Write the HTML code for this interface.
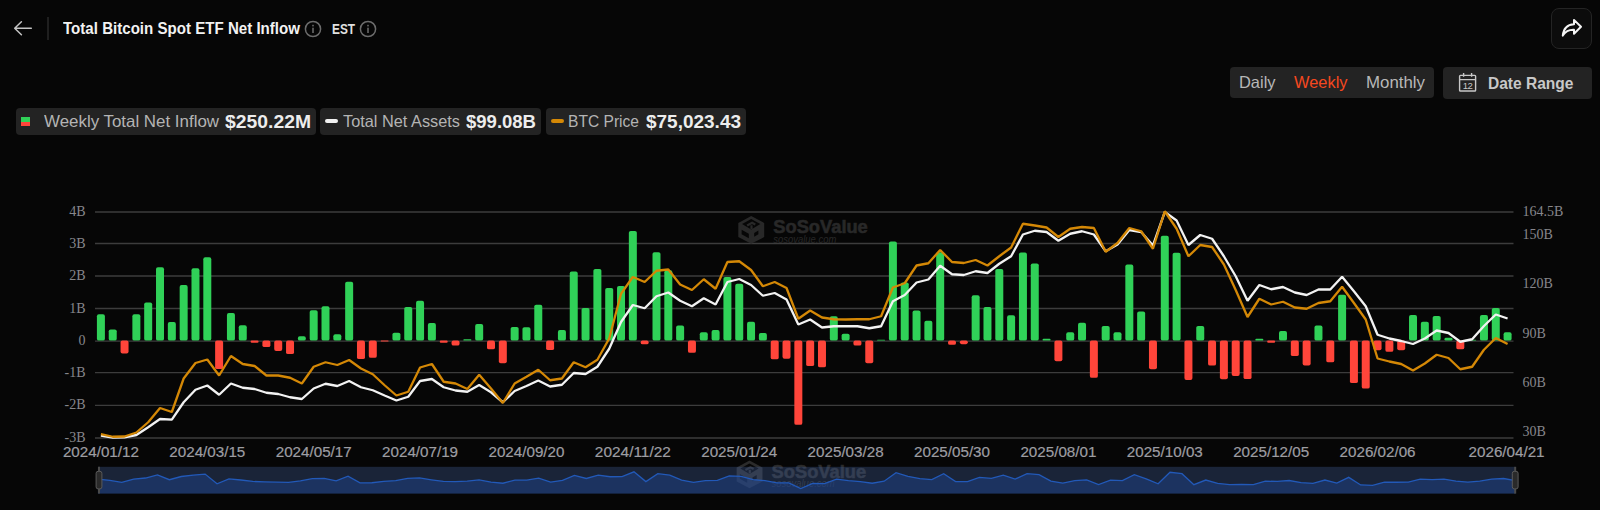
<!DOCTYPE html>
<html lang="en"><head><meta charset="utf-8"><title>Total Bitcoin Spot ETF Net Inflow</title>
<style>
*{margin:0;padding:0;box-sizing:border-box}
html,body{width:1600px;height:510px;background:#060606;overflow:hidden}
body{position:relative;font-family:"Liberation Sans",sans-serif;color:#eee}
.abs{position:absolute}
.t{position:absolute;white-space:nowrap;line-height:1;transform-origin:0 0}
.box{position:absolute;background:#232323;border-radius:4px}
.chart{position:absolute;left:0;top:0}
svg{display:block}
</style></head><body>
<svg class="abs" style="left:10px;top:16px" width="26" height="26" viewBox="0 0 26 26"><path d="M21.3 12.2 H5 M11.4 5.7 L4.7 12.2 L11.4 18.7" fill="none" stroke="#c4c4c4" stroke-width="1.5" stroke-linecap="round" stroke-linejoin="round"/></svg>
<div class="abs" style="left:47.2px;top:17px;width:1.8px;height:22.6px;background:#1f1f1f"></div>
<svg class="abs" style="left:304px;top:19.8px" width="18" height="18" viewBox="0 0 18 18"><circle cx="9" cy="9" r="7.6" fill="none" stroke="#6c6c6c" stroke-width="1.5"/><rect x="8.3" y="7.7" width="1.4" height="5.3" fill="#777777"/><rect x="8.3" y="4.8" width="1.4" height="1.6" fill="#777777"/></svg>
<svg class="abs" style="left:358.8px;top:19.8px" width="18" height="18" viewBox="0 0 18 18"><circle cx="9" cy="9" r="7.6" fill="none" stroke="#6c6c6c" stroke-width="1.5"/><rect x="8.3" y="7.7" width="1.4" height="5.3" fill="#777777"/><rect x="8.3" y="4.8" width="1.4" height="1.6" fill="#777777"/></svg>
<div class="abs" style="left:1551.3px;top:8px;width:40.5px;height:41px;border:1px solid #242424;background:#0c0c0c;border-radius:8px"></div>
<svg class="abs" style="left:1560px;top:16px" width="24" height="24" viewBox="0 0 24 24"><path d="M14 3.9 L21 10.8 L14 17.8 V13.8 C9 13.6 5.5 15.2 2.8 19.6 C3.4 13 7.2 8.6 14 8.2 Z" fill="none" stroke="#f5f5f5" stroke-width="2" stroke-linejoin="round"/></svg>
<div class="box" style="left:1229.5px;top:66.7px;width:204px;height:31.5px"></div>
<div class="box" style="left:1442.5px;top:67.1px;width:149.5px;height:32px"></div>
<svg class="abs" style="left:1457px;top:71px" width="22" height="24" viewBox="0 0 22 24"><g fill="none" stroke="#c8c8c8" stroke-width="1.4"><rect x="2.6" y="4.4" width="16" height="15.6" rx="0.8"/><path d="M2.6 8.6 H18.6 M6.6 2 V5.8 M14.6 2 V5.8"/></g><text x="10.6" y="17.8" text-anchor="middle" font-family="Liberation Sans, sans-serif" font-weight="400" font-size="9.6" letter-spacing="-0.4" fill="#c8c8c8">12</text></svg>
<div class="box" style="left:16px;top:108px;width:299.5px;height:26.5px"></div>
<div class="box" style="left:320.2px;top:108px;width:221px;height:26.5px"></div>
<div class="box" style="left:546px;top:108px;width:199.5px;height:26.5px"></div>
<div class="abs" style="left:20.5px;top:117px;width:9.5px;height:4.7px;background:#30d158"></div>
<div class="abs" style="left:20.5px;top:121.7px;width:9.5px;height:4.7px;background:#ff453a"></div>
<div class="abs" style="left:325px;top:118.7px;width:13px;height:4.6px;border-radius:2.3px;background:#f2f2f2"></div>
<div class="abs" style="left:550.5px;top:118.7px;width:13px;height:4.6px;border-radius:2.3px;background:#d48806"></div>
<span id="t_title" class="t" style="left:62.5px;top:20.84px;font-size:15.6px;font-weight:700;color:#f2f2f2;transform:scaleX(0.9679)">Total Bitcoin Spot ETF Net Inflow</span>
<span id="t_est" class="t" style="left:331.5px;top:21.86px;font-size:14.5px;font-weight:700;color:#e0e0e0;transform:scaleX(0.8155)">EST</span>
<span id="t_daily" class="t" style="left:1239px;top:74.3px;font-size:16.5px;font-weight:400;color:#b8b8b8;transform:scaleX(0.9949)">Daily</span>
<span id="t_weekly" class="t" style="left:1293.5px;top:74.3px;font-size:16.5px;font-weight:400;color:#f5481f;transform:scaleX(0.9945)">Weekly</span>
<span id="t_monthly" class="t" style="left:1365.5px;top:74.3px;font-size:16.5px;font-weight:400;color:#b8b8b8;transform:scaleX(1.0211)">Monthly</span>
<span id="t_range" class="t" style="left:1488.3px;top:75.3px;font-size:16.5px;font-weight:700;color:#c8c8c8;transform:scaleX(0.9418)">Date Range</span>
<span id="t_l1" class="t" style="left:43.6px;top:113.3px;font-size:16.5px;font-weight:400;color:#b4b4b4;transform:scaleX(1.024)">Weekly Total Net Inflow</span>
<span id="t_v1" class="t" style="left:224.5px;top:112.42px;font-size:19px;font-weight:700;color:#ededed;transform:scaleX(1.0176)">$250.22M</span>
<span id="t_l2" class="t" style="left:342.8px;top:113.3px;font-size:16.5px;font-weight:400;color:#b4b4b4;transform:scaleX(0.9889)">Total Net Assets</span>
<span id="t_v2" class="t" style="left:466px;top:112.42px;font-size:19px;font-weight:700;color:#ededed;transform:scaleX(0.9743)">$99.08B</span>
<span id="t_l3" class="t" style="left:568.4px;top:113.3px;font-size:16.5px;font-weight:400;color:#b4b4b4;transform:scaleX(0.9443)">BTC Price</span>
<span id="t_v3" class="t" style="left:645.5px;top:112.42px;font-size:19px;font-weight:700;color:#ededed;transform:scaleX(0.999)">$75,023.43</span>
<svg class="chart" width="1600" height="510" viewBox="0 0 1600 510">
<line x1="95.0" x2="1513.5" y1="212" y2="212" stroke="#3c3c3c" stroke-width="1.3"/>
<line x1="95.0" x2="1513.5" y1="243.5" y2="243.5" stroke="#3c3c3c" stroke-width="1.3"/>
<line x1="95.0" x2="1513.5" y1="276" y2="276" stroke="#3c3c3c" stroke-width="1.3"/>
<line x1="95.0" x2="1513.5" y1="308.5" y2="308.5" stroke="#3c3c3c" stroke-width="1.3"/>
<line x1="95.0" x2="1513.5" y1="341.2" y2="341.2" stroke="#3c3c3c" stroke-width="1.3"/>
<line x1="95.0" x2="1513.5" y1="372.7" y2="372.7" stroke="#3c3c3c" stroke-width="1.3"/>
<line x1="95.0" x2="1513.5" y1="405.4" y2="405.4" stroke="#3c3c3c" stroke-width="1.3"/>
<line x1="95.0" x2="1513.5" y1="438" y2="438" stroke="#3c3c3c" stroke-width="1.3"/>
<g transform="translate(738.3,215.9)" fill="#282828"><path d="M12.9 0 L25.9 7.05 V21.2 L12.9 27.8 L0 21.2 V7.05 Z" fill="#282828"/><path d="M12.9 3 L22 8.2 L12.9 13.5 L3.8 8.2 Z" fill="#060606"/><path d="M8.8 9.6 L13.8 6.8 L17 8.6 M13.2 9.4 V13" fill="none" stroke="#282828" stroke-width="2.2"/><path d="M3.3 13.8 L10.5 17.8 V22.4 L3.3 18.4 Z" fill="#060606"/><path d="M15.9 17 L20.1 14.6 V18.4 L15.9 20.8 Z" fill="#060606"/><text x="35" y="17.2" font-family="Liberation Sans, sans-serif" font-weight="700" font-size="18.5" textLength="94.5" lengthAdjust="spacingAndGlyphs" stroke="#282828" stroke-width="0.6">SoSoValue</text><text x="35" y="27" font-family="Liberation Sans, sans-serif" font-style="italic" font-size="11" textLength="63" lengthAdjust="spacingAndGlyphs">sosovalue.com</text></g>
<rect x="96.91" y="314.34" width="8.0" height="26.26" rx="1.9" fill="#30d158"/>
<rect x="108.73" y="329.47" width="8.0" height="11.13" rx="1.9" fill="#30d158"/>
<rect x="120.55" y="340.6" width="8.0" height="12.88" rx="1.9" fill="#ff453a"/>
<rect x="132.37" y="314.34" width="8.0" height="26.26" rx="1.9" fill="#30d158"/>
<rect x="144.19" y="302.43" width="8.0" height="38.17" rx="1.9" fill="#30d158"/>
<rect x="156.01" y="267.33" width="8.0" height="73.27" rx="1.9" fill="#30d158"/>
<rect x="167.84" y="322.07" width="8.0" height="18.53" rx="1.9" fill="#30d158"/>
<rect x="179.66" y="285.04" width="8.0" height="55.56" rx="1.9" fill="#30d158"/>
<rect x="191.48" y="268.29" width="8.0" height="72.31" rx="1.9" fill="#30d158"/>
<rect x="203.3" y="257.35" width="8.0" height="83.25" rx="1.9" fill="#30d158"/>
<rect x="215.12" y="340.6" width="8.0" height="28.5" rx="1.9" fill="#ff453a"/>
<rect x="226.94" y="313.05" width="8.0" height="27.55" rx="1.9" fill="#30d158"/>
<rect x="238.76" y="325.29" width="8.0" height="15.31" rx="1.9" fill="#30d158"/>
<rect x="250.58" y="340.6" width="8.0" height="2.25" rx="1.13" fill="#ff453a"/>
<rect x="262.4" y="340.6" width="8.0" height="6.44" rx="1.9" fill="#ff453a"/>
<rect x="274.22" y="340.6" width="8.0" height="10.3" rx="1.9" fill="#ff453a"/>
<rect x="286.04" y="340.6" width="8.0" height="13.52" rx="1.9" fill="#ff453a"/>
<rect x="297.86" y="336.24" width="8.0" height="4.36" rx="1.9" fill="#30d158"/>
<rect x="309.69" y="310.15" width="8.0" height="30.45" rx="1.9" fill="#30d158"/>
<rect x="321.51" y="306.29" width="8.0" height="34.31" rx="1.9" fill="#30d158"/>
<rect x="333.33" y="334.3" width="8.0" height="6.3" rx="1.9" fill="#30d158"/>
<rect x="345.15" y="281.82" width="8.0" height="58.78" rx="1.9" fill="#30d158"/>
<rect x="356.97" y="340.6" width="8.0" height="18.51" rx="1.9" fill="#ff453a"/>
<rect x="368.79" y="340.6" width="8.0" height="17.23" rx="1.9" fill="#ff453a"/>
<rect x="380.61" y="340.6" width="8.0" height="0.97" rx="0.48" fill="#ff453a"/>
<rect x="392.43" y="332.69" width="8.0" height="7.91" rx="1.9" fill="#30d158"/>
<rect x="404.25" y="306.93" width="8.0" height="33.67" rx="1.9" fill="#30d158"/>
<rect x="416.07" y="300.82" width="8.0" height="39.78" rx="1.9" fill="#30d158"/>
<rect x="427.89" y="323.03" width="8.0" height="17.57" rx="1.9" fill="#30d158"/>
<rect x="439.71" y="340.6" width="8.0" height="2.25" rx="1.13" fill="#ff453a"/>
<rect x="451.54" y="340.6" width="8.0" height="4.99" rx="1.9" fill="#ff453a"/>
<rect x="463.36" y="339.31" width="8.0" height="1.29" rx="0.64" fill="#30d158"/>
<rect x="475.18" y="324" width="8.0" height="16.6" rx="1.9" fill="#30d158"/>
<rect x="487" y="340.6" width="8.0" height="8.69" rx="1.9" fill="#ff453a"/>
<rect x="498.82" y="340.6" width="8.0" height="22.54" rx="1.9" fill="#ff453a"/>
<rect x="510.64" y="326.9" width="8.0" height="13.7" rx="1.9" fill="#30d158"/>
<rect x="522.46" y="327.22" width="8.0" height="13.38" rx="1.9" fill="#30d158"/>
<rect x="534.28" y="304.68" width="8.0" height="35.92" rx="1.9" fill="#30d158"/>
<rect x="546.1" y="340.6" width="8.0" height="9.5" rx="1.9" fill="#ff453a"/>
<rect x="557.92" y="330.12" width="8.0" height="10.48" rx="1.9" fill="#30d158"/>
<rect x="569.74" y="271.51" width="8.0" height="69.09" rx="1.9" fill="#30d158"/>
<rect x="581.56" y="307.9" width="8.0" height="32.7" rx="1.9" fill="#30d158"/>
<rect x="593.39" y="268.94" width="8.0" height="71.66" rx="1.9" fill="#30d158"/>
<rect x="605.21" y="287.94" width="8.0" height="52.66" rx="1.9" fill="#30d158"/>
<rect x="617.03" y="286" width="8.0" height="54.6" rx="1.9" fill="#30d158"/>
<rect x="628.85" y="230.94" width="8.0" height="109.66" rx="1.9" fill="#30d158"/>
<rect x="640.67" y="340.6" width="8.0" height="3.7" rx="1.85" fill="#ff453a"/>
<rect x="652.49" y="252.19" width="8.0" height="88.41" rx="1.9" fill="#30d158"/>
<rect x="664.31" y="270.23" width="8.0" height="70.37" rx="1.9" fill="#30d158"/>
<rect x="676.13" y="325.61" width="8.0" height="14.99" rx="1.9" fill="#30d158"/>
<rect x="687.95" y="340.6" width="8.0" height="12.24" rx="1.9" fill="#ff453a"/>
<rect x="699.77" y="332.37" width="8.0" height="8.23" rx="1.9" fill="#30d158"/>
<rect x="711.59" y="330.12" width="8.0" height="10.48" rx="1.9" fill="#30d158"/>
<rect x="723.41" y="276.99" width="8.0" height="63.61" rx="1.9" fill="#30d158"/>
<rect x="735.24" y="283.75" width="8.0" height="56.85" rx="1.9" fill="#30d158"/>
<rect x="747.06" y="321.84" width="8.0" height="18.76" rx="1.9" fill="#30d158"/>
<rect x="758.88" y="333.11" width="8.0" height="7.49" rx="1.9" fill="#30d158"/>
<rect x="770.7" y="340.6" width="8.0" height="18.68" rx="1.9" fill="#ff453a"/>
<rect x="782.52" y="340.6" width="8.0" height="18.03" rx="1.9" fill="#ff453a"/>
<rect x="794.34" y="340.6" width="8.0" height="84.24" rx="1.9" fill="#ff453a"/>
<rect x="806.16" y="340.6" width="8.0" height="25.44" rx="1.9" fill="#ff453a"/>
<rect x="817.98" y="340.6" width="8.0" height="26.73" rx="1.9" fill="#ff453a"/>
<rect x="829.8" y="316.27" width="8.0" height="24.33" rx="1.9" fill="#30d158"/>
<rect x="841.62" y="333.66" width="8.0" height="6.94" rx="1.9" fill="#30d158"/>
<rect x="853.44" y="340.6" width="8.0" height="4.99" rx="1.9" fill="#ff453a"/>
<rect x="865.26" y="340.6" width="8.0" height="22.54" rx="1.9" fill="#ff453a"/>
<rect x="877.09" y="339.8" width="8.0" height="0.8" rx="0.4" fill="#30d158"/>
<rect x="888.91" y="241.57" width="8.0" height="99.03" rx="1.9" fill="#30d158"/>
<rect x="900.73" y="282.46" width="8.0" height="58.14" rx="1.9" fill="#30d158"/>
<rect x="912.55" y="310.48" width="8.0" height="30.12" rx="1.9" fill="#30d158"/>
<rect x="924.37" y="320.78" width="8.0" height="19.82" rx="1.9" fill="#30d158"/>
<rect x="936.19" y="252.19" width="8.0" height="88.41" rx="1.9" fill="#30d158"/>
<rect x="948.01" y="340.6" width="8.0" height="4.19" rx="1.9" fill="#ff453a"/>
<rect x="959.83" y="340.6" width="8.0" height="3.54" rx="1.77" fill="#ff453a"/>
<rect x="971.65" y="295.34" width="8.0" height="45.26" rx="1.9" fill="#30d158"/>
<rect x="983.47" y="307.1" width="8.0" height="33.5" rx="1.9" fill="#30d158"/>
<rect x="995.29" y="268.94" width="8.0" height="71.66" rx="1.9" fill="#30d158"/>
<rect x="1007.11" y="315.31" width="8.0" height="25.29" rx="1.9" fill="#30d158"/>
<rect x="1018.94" y="252.52" width="8.0" height="88.08" rx="1.9" fill="#30d158"/>
<rect x="1030.76" y="263.46" width="8.0" height="77.14" rx="1.9" fill="#30d158"/>
<rect x="1042.58" y="338.67" width="8.0" height="1.93" rx="0.97" fill="#30d158"/>
<rect x="1054.4" y="340.6" width="8.0" height="20.61" rx="1.9" fill="#ff453a"/>
<rect x="1066.22" y="332.37" width="8.0" height="8.23" rx="1.9" fill="#30d158"/>
<rect x="1078.04" y="322.87" width="8.0" height="17.73" rx="1.9" fill="#30d158"/>
<rect x="1089.86" y="340.6" width="8.0" height="37.26" rx="1.9" fill="#ff453a"/>
<rect x="1101.68" y="325.93" width="8.0" height="14.67" rx="1.9" fill="#30d158"/>
<rect x="1113.5" y="332.37" width="8.0" height="8.23" rx="1.9" fill="#30d158"/>
<rect x="1125.32" y="264.59" width="8.0" height="76.01" rx="1.9" fill="#30d158"/>
<rect x="1137.14" y="311.6" width="8.0" height="29" rx="1.9" fill="#30d158"/>
<rect x="1148.96" y="340.6" width="8.0" height="28.66" rx="1.9" fill="#ff453a"/>
<rect x="1160.79" y="235.77" width="8.0" height="104.83" rx="1.9" fill="#30d158"/>
<rect x="1172.61" y="252.84" width="8.0" height="87.76" rx="1.9" fill="#30d158"/>
<rect x="1184.43" y="340.6" width="8.0" height="39.28" rx="1.9" fill="#ff453a"/>
<rect x="1196.25" y="325.93" width="8.0" height="14.67" rx="1.9" fill="#30d158"/>
<rect x="1208.07" y="340.6" width="8.0" height="24.99" rx="1.9" fill="#ff453a"/>
<rect x="1219.89" y="340.6" width="8.0" height="38.64" rx="1.9" fill="#ff453a"/>
<rect x="1231.71" y="340.6" width="8.0" height="35.42" rx="1.9" fill="#ff453a"/>
<rect x="1243.53" y="340.6" width="8.0" height="38.51" rx="1.9" fill="#ff453a"/>
<rect x="1255.35" y="338.67" width="8.0" height="1.93" rx="0.97" fill="#30d158"/>
<rect x="1267.17" y="340.6" width="8.0" height="2.25" rx="1.13" fill="#ff453a"/>
<rect x="1278.99" y="331.08" width="8.0" height="9.52" rx="1.9" fill="#30d158"/>
<rect x="1290.81" y="340.6" width="8.0" height="15.46" rx="1.9" fill="#ff453a"/>
<rect x="1302.64" y="340.6" width="8.0" height="24.79" rx="1.9" fill="#ff453a"/>
<rect x="1314.46" y="325.61" width="8.0" height="14.99" rx="1.9" fill="#30d158"/>
<rect x="1326.28" y="340.6" width="8.0" height="21.74" rx="1.9" fill="#ff453a"/>
<rect x="1338.1" y="294.7" width="8.0" height="45.9" rx="1.9" fill="#30d158"/>
<rect x="1349.92" y="340.6" width="8.0" height="42.5" rx="1.9" fill="#ff453a"/>
<rect x="1361.74" y="340.6" width="8.0" height="47.98" rx="1.9" fill="#ff453a"/>
<rect x="1373.56" y="340.6" width="8.0" height="9.66" rx="1.9" fill="#ff453a"/>
<rect x="1385.38" y="340.6" width="8.0" height="11.27" rx="1.9" fill="#ff453a"/>
<rect x="1397.2" y="340.6" width="8.0" height="9.66" rx="1.9" fill="#ff453a"/>
<rect x="1409.02" y="315.11" width="8.0" height="25.49" rx="1.9" fill="#30d158"/>
<rect x="1420.84" y="321.84" width="8.0" height="18.76" rx="1.9" fill="#30d158"/>
<rect x="1432.66" y="315.95" width="8.0" height="24.65" rx="1.9" fill="#30d158"/>
<rect x="1444.49" y="337.86" width="8.0" height="2.74" rx="1.37" fill="#30d158"/>
<rect x="1456.31" y="340.6" width="8.0" height="8.69" rx="1.9" fill="#ff453a"/>
<rect x="1468.13" y="339.8" width="8.0" height="0.8" rx="0.4" fill="#30d158"/>
<rect x="1479.95" y="315.11" width="8.0" height="25.49" rx="1.9" fill="#30d158"/>
<rect x="1491.77" y="307.9" width="8.0" height="32.7" rx="1.9" fill="#30d158"/>
<rect x="1503.59" y="332.37" width="8.0" height="8.23" rx="1.9" fill="#30d158"/>
<polyline points="100.91,435.5 112.73,437.5 124.55,437.25 136.37,435 148.19,427.25 160.01,419 171.84,419.6 183.66,402.25 195.48,389.75 207.3,385.5 219.12,394.75 230.94,383.5 242.76,387.75 254.58,389 266.4,392.75 278.22,394 290.04,397.25 301.86,399 313.69,388.5 325.51,383.75 337.33,386 349.15,381 360.97,387.25 372.79,390.25 384.61,395.5 396.43,400.5 408.25,396.75 420.07,381 431.89,379 443.71,387.25 455.54,390.5 467.36,391.75 479.18,385 491,392.25 502.82,402.25 514.64,391 526.46,386 538.28,380.5 550.1,386.5 561.92,384.75 573.74,373 585.56,374 597.39,366.75 609.21,348.75 621.03,322 632.85,305 644.67,308.25 656.49,296.25 668.31,292.5 680.13,300.75 691.95,306.25 703.77,298.25 715.59,304.5 727.41,282 739.24,279 751.06,285 762.88,295.75 774.7,293 786.52,299.5 798.34,324.5 810.16,319.5 821.98,327.5 833.8,326.25 845.62,326.25 857.44,326.25 869.26,328.25 881.09,326.25 892.91,301.25 904.73,295 916.55,282.5 928.37,279.5 940.19,265.75 952.01,274.25 963.83,275 975.65,271.25 987.47,273 999.29,263.75 1011.11,256.25 1022.94,234.5 1034.76,230.75 1046.58,232 1058.4,240.75 1070.22,233.75 1082.04,231.25 1093.86,234.5 1105.68,251.25 1117.5,244.5 1129.32,230 1141.14,232 1152.96,245.5 1164.79,212 1176.61,220.5 1188.43,245 1200.25,235 1212.07,238.75 1223.89,256.25 1235.71,276.25 1247.53,300.75 1259.35,285 1271.17,289.25 1282.99,287 1294.81,292.5 1306.64,295 1318.46,289.5 1330.28,289.5 1342.1,276.75 1353.92,291.25 1365.74,306.25 1377.56,334.75 1389.38,338.5 1401.2,341 1413.02,344 1424.84,338.5 1436.66,330.5 1448.49,333 1460.31,341.75 1472.13,339.25 1483.95,326 1495.77,314.5 1507.59,318.5" fill="none" stroke="#f2f2f2" stroke-width="2.3" stroke-linejoin="bevel" stroke-linecap="butt"/>
<polyline points="100.91,434.2 112.73,436.75 124.55,436.5 136.37,432.5 148.19,422.25 160.01,408 171.84,412 183.66,378.5 195.48,363 207.3,359.5 219.12,375.5 230.94,356 242.76,364 254.58,366 266.4,375.5 278.22,375.5 290.04,377.75 301.86,383.5 313.69,366.75 325.51,362.25 337.33,365 349.15,360 360.97,368.5 372.79,374.25 384.61,385.25 396.43,395.5 408.25,391.75 420.07,367.5 431.89,364 443.71,381.75 455.54,383.5 467.36,389 479.18,374.75 491,388.5 502.82,403 514.64,383.5 526.46,376.75 538.28,369.75 550.1,380.25 561.92,378.5 573.74,362.25 585.56,367.25 597.39,359.75 609.21,338.5 621.03,293.75 632.85,277 644.67,282 656.49,270.75 668.31,269.5 680.13,284.5 691.95,290 703.77,279.25 715.59,288.75 727.41,262 739.24,261.25 751.06,270 762.88,286.25 774.7,282 786.52,288 798.34,318.75 810.16,310.5 821.98,317.5 833.8,319.25 845.62,319.5 857.44,319.25 869.26,319.25 881.09,316.25 892.91,287.5 904.73,283.25 916.55,265.5 928.37,263.25 940.19,250 952.01,262 963.83,263 975.65,260 987.47,265.5 999.29,256.25 1011.11,247.5 1022.94,223.75 1034.76,225.5 1046.58,227.5 1058.4,237 1070.22,228.75 1082.04,227 1093.86,228 1105.68,251.75 1117.5,243 1129.32,228 1141.14,231.25 1152.96,248.75 1164.79,211.25 1176.61,228.75 1188.43,256.25 1200.25,245 1212.07,247 1223.89,264.5 1235.71,290 1247.53,317 1259.35,298.75 1271.17,304.5 1282.99,301.75 1294.81,307.5 1306.64,308.75 1318.46,303 1330.28,301.25 1342.1,286.75 1353.92,303 1365.74,319.5 1377.56,358.5 1389.38,361.5 1401.2,364 1413.02,370.5 1424.84,363.5 1436.66,354.75 1448.49,358 1460.31,369.25 1472.13,366.75 1483.95,349.75 1495.77,338 1507.59,344" fill="none" stroke="#d48806" stroke-width="2.3" stroke-linejoin="bevel" stroke-linecap="butt"/>
<text x="85.5" y="216" text-anchor="end" font-family="Liberation Serif, serif" font-size="14.0" fill="#86868c">4B</text>
<text x="85.5" y="247.5" text-anchor="end" font-family="Liberation Serif, serif" font-size="14.0" fill="#86868c">3B</text>
<text x="85.5" y="280" text-anchor="end" font-family="Liberation Serif, serif" font-size="14.0" fill="#86868c">2B</text>
<text x="85.5" y="312.5" text-anchor="end" font-family="Liberation Serif, serif" font-size="14.0" fill="#86868c">1B</text>
<text x="85.5" y="345.2" text-anchor="end" font-family="Liberation Serif, serif" font-size="14.0" fill="#86868c">0</text>
<text x="85.5" y="376.7" text-anchor="end" font-family="Liberation Serif, serif" font-size="14.0" fill="#86868c">-1B</text>
<text x="85.5" y="409.4" text-anchor="end" font-family="Liberation Serif, serif" font-size="14.0" fill="#86868c">-2B</text>
<text x="85.5" y="442" text-anchor="end" font-family="Liberation Serif, serif" font-size="14.0" fill="#86868c">-3B</text>
<text x="1522.4" y="215.9" font-family="Liberation Serif, serif" font-size="14.0" fill="#86868c">164.5B</text>
<text x="1522.4" y="238.8" font-family="Liberation Serif, serif" font-size="14.0" fill="#86868c">150B</text>
<text x="1522.4" y="288.3" font-family="Liberation Serif, serif" font-size="14.0" fill="#86868c">120B</text>
<text x="1522.4" y="337.8" font-family="Liberation Serif, serif" font-size="14.0" fill="#86868c">90B</text>
<text x="1522.4" y="386.8" font-family="Liberation Serif, serif" font-size="14.0" fill="#86868c">60B</text>
<text x="1522.4" y="435.9" font-family="Liberation Serif, serif" font-size="14.0" fill="#86868c">30B</text>
<text x="100.91" y="457" text-anchor="middle" font-family="Liberation Sans, sans-serif" font-size="14" textLength="76" lengthAdjust="spacingAndGlyphs" fill="#9d9da2" stroke="#9d9da2" stroke-width="0.2">2024/01/12</text>
<text x="207.3" y="457" text-anchor="middle" font-family="Liberation Sans, sans-serif" font-size="14" textLength="76" lengthAdjust="spacingAndGlyphs" fill="#9d9da2" stroke="#9d9da2" stroke-width="0.2">2024/03/15</text>
<text x="313.69" y="457" text-anchor="middle" font-family="Liberation Sans, sans-serif" font-size="14" textLength="76" lengthAdjust="spacingAndGlyphs" fill="#9d9da2" stroke="#9d9da2" stroke-width="0.2">2024/05/17</text>
<text x="420.07" y="457" text-anchor="middle" font-family="Liberation Sans, sans-serif" font-size="14" textLength="76" lengthAdjust="spacingAndGlyphs" fill="#9d9da2" stroke="#9d9da2" stroke-width="0.2">2024/07/19</text>
<text x="526.46" y="457" text-anchor="middle" font-family="Liberation Sans, sans-serif" font-size="14" textLength="76" lengthAdjust="spacingAndGlyphs" fill="#9d9da2" stroke="#9d9da2" stroke-width="0.2">2024/09/20</text>
<text x="632.85" y="457" text-anchor="middle" font-family="Liberation Sans, sans-serif" font-size="14" textLength="76" lengthAdjust="spacingAndGlyphs" fill="#9d9da2" stroke="#9d9da2" stroke-width="0.2">2024/11/22</text>
<text x="739.24" y="457" text-anchor="middle" font-family="Liberation Sans, sans-serif" font-size="14" textLength="76" lengthAdjust="spacingAndGlyphs" fill="#9d9da2" stroke="#9d9da2" stroke-width="0.2">2025/01/24</text>
<text x="845.62" y="457" text-anchor="middle" font-family="Liberation Sans, sans-serif" font-size="14" textLength="76" lengthAdjust="spacingAndGlyphs" fill="#9d9da2" stroke="#9d9da2" stroke-width="0.2">2025/03/28</text>
<text x="952.01" y="457" text-anchor="middle" font-family="Liberation Sans, sans-serif" font-size="14" textLength="76" lengthAdjust="spacingAndGlyphs" fill="#9d9da2" stroke="#9d9da2" stroke-width="0.2">2025/05/30</text>
<text x="1058.4" y="457" text-anchor="middle" font-family="Liberation Sans, sans-serif" font-size="14" textLength="76" lengthAdjust="spacingAndGlyphs" fill="#9d9da2" stroke="#9d9da2" stroke-width="0.2">2025/08/01</text>
<text x="1164.79" y="457" text-anchor="middle" font-family="Liberation Sans, sans-serif" font-size="14" textLength="76" lengthAdjust="spacingAndGlyphs" fill="#9d9da2" stroke="#9d9da2" stroke-width="0.2">2025/10/03</text>
<text x="1271.17" y="457" text-anchor="middle" font-family="Liberation Sans, sans-serif" font-size="14" textLength="76" lengthAdjust="spacingAndGlyphs" fill="#9d9da2" stroke="#9d9da2" stroke-width="0.2">2025/12/05</text>
<text x="1377.56" y="457" text-anchor="middle" font-family="Liberation Sans, sans-serif" font-size="14" textLength="76" lengthAdjust="spacingAndGlyphs" fill="#9d9da2" stroke="#9d9da2" stroke-width="0.2">2026/02/06</text>
<text x="1506.59" y="457" text-anchor="middle" font-family="Liberation Sans, sans-serif" font-size="14" textLength="76" lengthAdjust="spacingAndGlyphs" fill="#9d9da2" stroke="#9d9da2" stroke-width="0.2">2026/04/21</text>
<g transform="translate(736.6,460.4)" fill="#2b2b2b"><path d="M12.9 0 L25.9 7.05 V21.2 L12.9 27.8 L0 21.2 V7.05 Z" fill="#2b2b2b"/><path d="M12.9 3 L22 8.2 L12.9 13.5 L3.8 8.2 Z" fill="#060606"/><path d="M8.8 9.6 L13.8 6.8 L17 8.6 M13.2 9.4 V13" fill="none" stroke="#2b2b2b" stroke-width="2.2"/><path d="M3.3 13.8 L10.5 17.8 V22.4 L3.3 18.4 Z" fill="#060606"/><path d="M15.9 17 L20.1 14.6 V18.4 L15.9 20.8 Z" fill="#060606"/><text x="35" y="17.2" font-family="Liberation Sans, sans-serif" font-weight="700" font-size="18.5" textLength="94.5" lengthAdjust="spacingAndGlyphs" stroke="#2b2b2b" stroke-width="0.6">SoSoValue</text><text x="35" y="27" font-family="Liberation Sans, sans-serif" font-style="italic" font-size="11" textLength="63" lengthAdjust="spacingAndGlyphs">sosovalue.com</text></g>
<rect x="97.9" y="466.8" width="1417.6" height="26.8" fill="rgb(73,106,173)" fill-opacity="0.3"/>
<polygon points="97.9,493.6 97.9,479.05 109.81,480.36 121.73,482.39 133.64,479.05 145.55,478.02 157.46,474.98 169.38,479.72 181.29,476.51 193.2,475.06 205.11,474.11 217.03,483.75 228.94,478.94 240.85,480 252.76,481.47 264.68,481.84 276.59,482.17 288.5,482.45 300.41,480.94 312.33,478.69 324.24,478.35 336.15,480.78 348.06,476.23 359.98,482.88 371.89,482.77 383.8,481.36 395.72,480.64 407.63,478.41 419.54,477.88 431.45,479.8 443.37,481.47 455.28,481.71 467.19,481.17 479.1,479.88 491.02,482.03 502.93,483.23 514.84,480.14 526.75,480.16 538.67,478.21 550.58,482.1 562.49,480.41 574.4,475.34 586.32,478.49 598.23,475.12 610.14,476.76 622.05,476.59 633.97,471.82 645.88,481.6 657.79,473.67 669.71,475.23 681.62,480.02 693.53,482.34 705.44,480.61 717.36,480.41 729.27,475.81 741.18,476.4 753.09,479.7 765.01,480.67 776.92,482.9 788.83,482.84 800.74,488.58 812.66,483.48 824.57,483.59 836.48,479.22 848.39,480.72 860.31,481.71 872.22,483.23 884.13,481.22 896.04,472.75 907.96,476.29 919.87,478.71 931.78,479.61 943.69,473.67 955.61,481.64 967.52,481.59 979.43,477.4 991.35,478.42 1003.26,475.12 1015.17,479.13 1027.08,473.69 1039,474.64 1050.91,481.11 1062.82,483.06 1074.73,480.61 1086.65,479.79 1098.56,484.51 1110.47,480.05 1122.38,480.61 1134.3,474.74 1146.21,478.81 1158.12,483.76 1170.03,472.24 1181.95,473.72 1193.86,484.68 1205.77,480.05 1217.68,483.44 1229.6,484.63 1241.51,484.35 1253.42,484.61 1265.34,481.11 1277.25,481.47 1289.16,480.5 1301.07,482.62 1312.99,483.43 1324.9,480.02 1336.81,483.16 1348.72,477.35 1360.64,484.96 1372.55,485.43 1384.46,482.12 1396.37,482.26 1408.29,482.12 1420.2,479.12 1432.11,479.7 1444.02,479.19 1455.94,481.04 1467.85,482.03 1479.76,481.22 1491.67,479.12 1503.59,478.49 1515.5,480.61 1515.5,493.6" fill="rgb(30,66,136)" fill-opacity="0.5"/>
<polyline points="97.9,479.05 109.81,480.36 121.73,482.39 133.64,479.05 145.55,478.02 157.46,474.98 169.38,479.72 181.29,476.51 193.2,475.06 205.11,474.11 217.03,483.75 228.94,478.94 240.85,480 252.76,481.47 264.68,481.84 276.59,482.17 288.5,482.45 300.41,480.94 312.33,478.69 324.24,478.35 336.15,480.78 348.06,476.23 359.98,482.88 371.89,482.77 383.8,481.36 395.72,480.64 407.63,478.41 419.54,477.88 431.45,479.8 443.37,481.47 455.28,481.71 467.19,481.17 479.1,479.88 491.02,482.03 502.93,483.23 514.84,480.14 526.75,480.16 538.67,478.21 550.58,482.1 562.49,480.41 574.4,475.34 586.32,478.49 598.23,475.12 610.14,476.76 622.05,476.59 633.97,471.82 645.88,481.6 657.79,473.67 669.71,475.23 681.62,480.02 693.53,482.34 705.44,480.61 717.36,480.41 729.27,475.81 741.18,476.4 753.09,479.7 765.01,480.67 776.92,482.9 788.83,482.84 800.74,488.58 812.66,483.48 824.57,483.59 836.48,479.22 848.39,480.72 860.31,481.71 872.22,483.23 884.13,481.22 896.04,472.75 907.96,476.29 919.87,478.71 931.78,479.61 943.69,473.67 955.61,481.64 967.52,481.59 979.43,477.4 991.35,478.42 1003.26,475.12 1015.17,479.13 1027.08,473.69 1039,474.64 1050.91,481.11 1062.82,483.06 1074.73,480.61 1086.65,479.79 1098.56,484.51 1110.47,480.05 1122.38,480.61 1134.3,474.74 1146.21,478.81 1158.12,483.76 1170.03,472.24 1181.95,473.72 1193.86,484.68 1205.77,480.05 1217.68,483.44 1229.6,484.63 1241.51,484.35 1253.42,484.61 1265.34,481.11 1277.25,481.47 1289.16,480.5 1301.07,482.62 1312.99,483.43 1324.9,480.02 1336.81,483.16 1348.72,477.35 1360.64,484.96 1372.55,485.43 1384.46,482.12 1396.37,482.26 1408.29,482.12 1420.2,479.12 1432.11,479.7 1444.02,479.19 1455.94,481.04 1467.85,482.03 1479.76,481.22 1491.67,479.12 1503.59,478.49 1515.5,480.61" fill="none" stroke="#2259b8" stroke-width="1.3"/>
<line x1="99.0" x2="99.0" y1="466.8" y2="493.6" stroke="#4a4a4a" stroke-width="2"/>
<rect x="96.1" y="471.3" width="5.8" height="17.6" rx="2" fill="#2a2a2a" stroke="#5a5a5a" stroke-width="1"/>
<line x1="1515.2" x2="1515.2" y1="466.8" y2="493.6" stroke="#4a4a4a" stroke-width="2"/>
<rect x="1512.3" y="471.3" width="5.8" height="17.6" rx="2" fill="#2a2a2a" stroke="#5a5a5a" stroke-width="1"/>
</svg>
</body></html>
